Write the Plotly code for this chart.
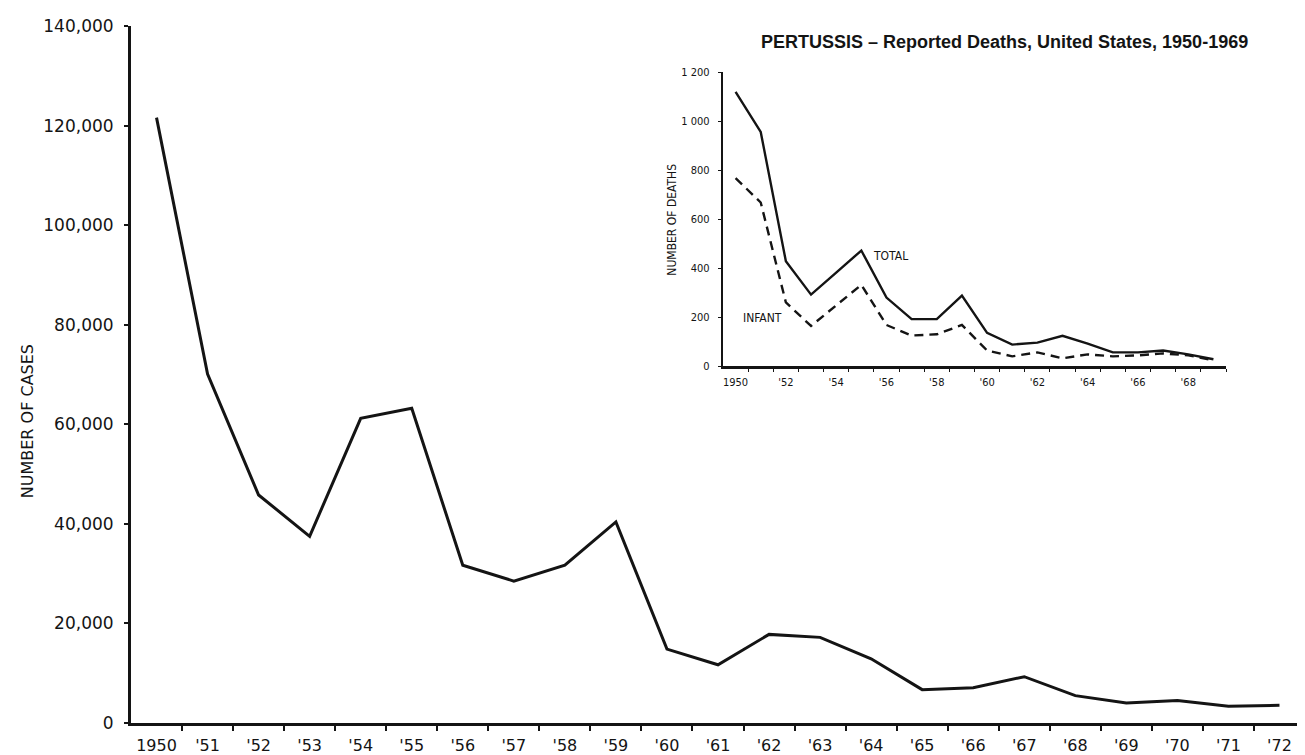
import plotly.graph_objects as go

# ---------------- data ----------------
years = list(range(1950, 1973))
cases = [121600, 70100, 45800, 37500, 61200, 63200, 31700, 28500, 31700, 40400,
         14850, 11700, 17800, 17200, 12900, 6700, 7100, 9300, 5500, 4000,
         4500, 3350, 3550]
year_labels = ["1950"] + ["'%02d" % (y % 100) for y in years[1:]]
case_ticks = [0, 20000, 40000, 60000, 80000, 100000, 120000, 140000]
case_tick_labels = ["0", "20,000", "40,000", "60,000", "80,000", "100,000", "120,000", "140,000"]

death_years = list(range(1950, 1970))
deaths_total = [1120, 956, 428, 292, 382, 472, 280, 192, 192, 288,
                136, 88, 96, 124, 92, 56, 56, 64, 48, 28]
deaths_infant = [768, 668, 260, 164, 248, 332, 168, 125, 130, 168,
                 64, 40, 56, 32, 48, 40, 44, 52, 44, 24]
death_tick_years = list(range(1950, 1970, 2))
death_year_labels = ["1950"] + ["'%02d" % (y % 100) for y in death_tick_years[1:]]
death_ticks = [0, 200, 400, 600, 800, 1000, 1200]
death_tick_labels = ["0", "200", "400", "600", "800", "1 000", "1 200"]

# ---------------- layout helpers ----------------
W, H = 1305, 755
L, R, T, B = 123, 1297, 18, 727


def px(x):
    return (x - L) / (R - L)


def py(y):
    return (B - y) / (B - T)


INK = "#141414"
MAIN_FONT = "DejaVu Sans, Lato, sans-serif"
NARROW = "Liberation Sans Narrow, DejaVu Sans Condensed, Arial Narrow, Liberation Sans, sans-serif"

fig = go.Figure()

fig.add_trace(go.Scatter(x=years, y=cases, mode="lines",
                         line=dict(color=INK, width=3), showlegend=False,
                         xaxis="x", yaxis="y"))

fig.add_trace(go.Scatter(x=death_years, y=deaths_total, mode="lines",
                         line=dict(color=INK, width=2.4), showlegend=False,
                         xaxis="x2", yaxis="y2"))
fig.add_trace(go.Scatter(x=death_years, y=deaths_infant, mode="lines",
                         line=dict(color=INK, width=2.4, dash="9px,6px"), showlegend=False,
                         xaxis="x2", yaxis="y2"))

fig.update_layout(
    width=W, height=H,
    margin=dict(l=L, r=W - R, t=T, b=H - B),
    paper_bgcolor="white", plot_bgcolor="white",
    xaxis=dict(
        domain=[0, 1], range=[1949.5, 1972.5],
        tickmode="array", tickvals=years, ticktext=year_labels,
        ticks="", showgrid=False, zeroline=False,
        showline=True, linecolor=INK, linewidth=3,
        tickfont=dict(family=MAIN_FONT, size=16, color=INK),
        ticklabelstandoff=6,
        minor=dict(tickmode="array", tickvals=[y + 0.5 for y in years[:-1]],
                   ticks="outside", ticklen=5, tickwidth=1.5, tickcolor=INK),
    ),
    yaxis=dict(
        domain=[0, 1], range=[0, 140000],
        tickmode="array", tickvals=case_ticks, ticktext=case_tick_labels,
        ticks="outside", ticklen=4, tickwidth=1.5, tickcolor=INK,
        showgrid=False, zeroline=False,
        showline=True, linecolor=INK, linewidth=3,
        tickfont=dict(family=MAIN_FONT, size=17, color=INK),
        ticklabelstandoff=7,
    ),
    xaxis2=dict(
        domain=[px(715), px(1218)], anchor="y2", range=[1949.5, 1969.5],
        tickmode="array", tickvals=death_tick_years, ticktext=death_year_labels,
        ticks="", showgrid=False, zeroline=False,
        showline=True, linecolor=INK, linewidth=3,
        tickfont=dict(family=NARROW, size=11, color=INK),
        ticklabelstandoff=4,
        minor=dict(tickmode="array", tickvals=[y + 0.5 for y in death_years],
                   ticks="outside", ticklen=3, tickwidth=1, tickcolor=INK),
    ),
    yaxis2=dict(
        domain=[py(364), py(65)], anchor="x2", range=[0, 1200],
        tickmode="array", tickvals=death_ticks, ticktext=death_tick_labels,
        ticks="outside", ticklen=3, tickwidth=1, tickcolor=INK,
        showgrid=False, zeroline=False,
        showline=True, linecolor=INK, linewidth=2.4,
        tickfont=dict(family=NARROW, size=11, color=INK),
        ticklabelstandoff=6,
    ),
)

annotations = [
    dict(text="NUMBER OF CASES", x=px(19), y=py(420), textangle=-90,
         font=dict(family=MAIN_FONT, size=16, color=INK)),
    dict(text="<b>PERTUSSIS – Reported Deaths, United States, 1950-1969</b>",
         x=px(996), y=py(34),
         font=dict(family="Liberation Sans, Arial, sans-serif", size=18, color=INK)),
    dict(text="NUMBER OF DEATHS", x=px(664), y=py(215), textangle=-90,
         font=dict(family=NARROW, size=12, color=INK)),
    dict(text="TOTAL", x=px(883), y=py(252),
         font=dict(family=NARROW, size=12, color=INK)),
    dict(text="INFANT", x=px(754), y=py(315),
         font=dict(family=NARROW, size=12, color=INK)),
]
for a in annotations:
    a.update(xref="paper", yref="paper", showarrow=False,
             xanchor="center", yanchor="middle")
fig.update_layout(annotations=annotations)

fig.write_html("out.html")
